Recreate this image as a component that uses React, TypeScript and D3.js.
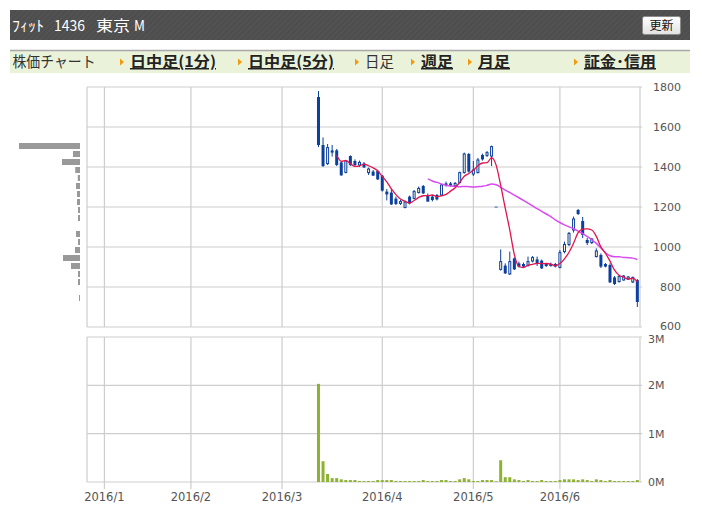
import React from 'react';
import * as d3 from 'd3';

// ---- data ----
const monthTickLabels = ['2016/1', '2016/2', '2016/3', '2016/4', '2016/5', '2016/6'];
const monthTickIndex = [0, 19, 39, 61, 81, 100]; // trading-day index of first session of month
const firstCandleIndex = 47; // 2016-03-11 (trading-day index)

const opens = [1750, 1510, 1417, 1483, 1483, 1423, 1373, 1455, 1430, 1410, 1417, 1372, 1377, 1380, 1357, 1277, 1272, 1242, 1218, 1198, 1252, 1243, 1272, 1305, 1260, 1252, 1260, 1260, 1318, 1318, 1307, 1322, 1372, 1465, 1365, 1372, 1460, 1458, 1455, 1200, 888, 907, 865, 943, 918, 915, 907, 930, 938, 932, 915, 907, 915, 898, 977, 1012, 1085, 1185, 1130, 1035, 1022, 952, 960, 915, 910, 848, 827, 835, 840, 825, 835];
const highs = [1780, 1548, 1515, 1510, 1490, 1427, 1435, 1458, 1438, 1432, 1425, 1397, 1385, 1385, 1360, 1290, 1290, 1252, 1235, 1233, 1257, 1285, 1302, 1310, 1268, 1260, 1265, 1315, 1327, 1325, 1325, 1377, 1472, 1470, 1430, 1445, 1467, 1480, 1507, 1200, 988, 918, 977, 948, 927, 922, 952, 955, 952, 937, 920, 922, 920, 985, 1027, 1075, 1152, 1190, 1150, 1045, 1045, 993, 968, 920, 918, 855, 860, 860, 855, 852, 840];
const lows = [1500, 1400, 1410, 1452, 1405, 1357, 1368, 1405, 1402, 1400, 1395, 1360, 1355, 1335, 1277, 1233, 1210, 1210, 1210, 1193, 1213, 1238, 1268, 1265, 1227, 1228, 1233, 1255, 1302, 1302, 1300, 1318, 1367, 1372, 1355, 1368, 1432, 1450, 1405, 1200, 882, 865, 860, 885, 897, 898, 902, 923, 905, 890, 900, 902, 898, 893, 968, 1005, 1072, 1160, 1045, 1010, 1015, 948, 895, 898, 820, 810, 822, 832, 835, 820, 700];
const closes = [1510, 1405, 1497, 1472, 1410, 1358, 1430, 1410, 1410, 1423, 1398, 1390, 1357, 1338, 1282, 1263, 1213, 1215, 1227, 1225, 1218, 1277, 1293, 1268, 1227, 1235, 1238, 1310, 1307, 1307, 1318, 1372, 1465, 1377, 1385, 1435, 1438, 1472, 1502, 1200, 927, 868, 927, 888, 902, 902, 927, 947, 915, 893, 905, 913, 902, 972, 1013, 1068, 1140, 1165, 1060, 1020, 1040, 980, 902, 902, 823, 815, 852, 855, 850, 848, 725];
const volumesM = [2.03, 0.43, 0.166, 0.08, 0.08, 0.055, 0.04, 0.04, 0.04, 0.02, 0.02, 0.02, 0.02, 0.04, 0.04, 0.04, 0.04, 0.02, 0.02, 0.02, 0.02, 0.02, 0.02, 0.04, 0.02, 0.02, 0.02, 0.04, 0.04, 0.02, 0.02, 0.055, 0.08, 0.055, 0.02, 0.02, 0.04, 0.04, 0.04, 0.015, 0.45, 0.1, 0.1, 0.055, 0.04, 0.02, 0.04, 0.02, 0.02, 0.04, 0.02, 0.02, 0.02, 0.04, 0.055, 0.055, 0.055, 0.04, 0.055, 0.04, 0.02, 0.055, 0.04, 0.02, 0.04, 0.02, 0.02, 0.02, 0.02, 0.02, 0.04];

const priceTicks = [600, 800, 1000, 1200, 1400, 1600, 1800];
const volTicks = [0, 1, 2, 3];
const volTickLabels = ['0M', '1M', '2M', '3M'];

const profileBinLow = [720, 760, 800, 840, 880, 920, 960, 1000, 1040, 1080, 1120, 1160, 1200, 1240, 1280, 1320, 1360, 1400, 1440, 1480];
const profileVolK = [40, 0, 80, 80, 360, 680, 200, 80, 160, 0, 80, 80, 120, 120, 160, 90, 190, 720, 280, 2440];
const profileBin = 40;

const tabs = [
  { label: '日中足(1分)', x: 130, w: 86, link: true },
  { label: '日中足(5分)', x: 248, w: 86, link: true },
  { label: '日足', x: 365, w: 29, link: false },
  { label: '週足', x: 421, w: 32, link: true },
  { label: '月足', x: 478, w: 32, link: true },
  { label: '証金･信用', x: 584, w: 72, link: true },
];

// ---- layout ----
const PL = 87, PR = 640;
const PT = 87, PB = 327;
const VT = 337, VB = 482;
const BLUE = '#0c3f9e';
const GRID = '#cdcdcd';
const FONT = "'DejaVu Sans', Verdana, sans-serif";
const JFONT = "'Noto Sans CJK JP', sans-serif";

function movingAvg(vals: number[], n: number) {
  const out: { i: number; v: number }[] = [];
  for (let k = n - 1; k < vals.length; k++) {
    out.push({ i: k, v: d3.mean(vals.slice(k - n + 1, k + 1)) as number });
  }
  return out;
}

export default function App() {
  const x = d3.scaleLinear().domain([0, 100]).range([104.4, 104.4 + 100 * 4.555]);
  const y = d3.scaleLinear().domain([600, 1800]).range([PB, PT]);
  const yv = d3.scaleLinear().domain([0, 3]).range([VB, VT]);
  const pv = d3.scaleLinear().domain([0, d3.max(profileVolK) as number]).range([0, 61]);

  const candles = closes.map((c, k) => ({
    idx: firstCandleIndex + k,
    o: opens[k], h: highs[k], l: lows[k], c,
    v: volumesM[k],
  }));

  const ma5 = movingAvg(closes, 5);
  const ma25 = movingAvg(closes, 25);
  const line = d3.line<{ i: number; v: number }>()
    .x(d => x(firstCandleIndex + d.i))
    .y(d => y(d.v))
    .curve(d3.curveMonotoneX);

  return (
    <svg width={702} height={520} style={{ position: 'absolute', left: 0, top: 0, background: '#fff' }}>
      <defs>
        <pattern id="stripe" width="4" height="4" patternUnits="userSpaceOnUse" patternTransform="rotate(45)">
          <rect width="4" height="4" fill="#4e4e4e" />
          <line x1="0" y1="0" x2="0" y2="4" stroke="#575757" strokeWidth="1.5" />
        </pattern>
        <linearGradient id="btn" x1="0" y1="0" x2="0" y2="1">
          <stop offset="0" stopColor="#ffffff" />
          <stop offset="1" stopColor="#e2e2e2" />
        </linearGradient>
      </defs>

      {/* header */}
      <rect x={10} y={10} width={680} height={30} fill="url(#stripe)" />
      <g fill="#fff" fontFamily={JFONT} fontSize={15}>
        <text x={12} y={31} textLength={32} lengthAdjust="spacingAndGlyphs">ﾌｨｯﾄ</text>
        <text x={54} y={31} textLength={31} lengthAdjust="spacingAndGlyphs">1436</text>
        <text x={96} y={31} textLength={34} lengthAdjust="spacingAndGlyphs">東京</text>
        <text x={134} y={31} textLength={11} lengthAdjust="spacingAndGlyphs">M</text>
      </g>
      <rect x={642.5} y={16.5} width={38} height={18} rx={2} fill="url(#btn)" stroke="#8a8a8a" />
      <text x={661.5} y={30} textAnchor="middle" fontFamily={JFONT} fontSize={12} fill="#111">更新</text>

      {/* tab bar */}
      <rect x={10} y={50} width={680} height={23} fill="#ebf2da" />
      <line x1={10} x2={690} y1={50.5} y2={50.5} stroke="#a9a9a9" strokeWidth={1.5} />
      <text x={12.5} y={67} fontFamily={JFONT} fontSize={15} fill="#333" textLength={83} lengthAdjust="spacingAndGlyphs">株価チャート</text>
      {tabs.map(t => (
        <g key={t.label}>
          <path d={`M${t.x - 10},${58.5} L${t.x - 6},${62} L${t.x - 10},${65.5} Z`} fill="#f29b0c" />
          <text x={t.x} y={67} fontFamily={JFONT} fontSize={15} fontWeight={t.link ? 'bold' : 'normal'}
            fill={t.link ? '#222' : '#333'} textLength={t.w} lengthAdjust="spacingAndGlyphs"
            style={{ textDecoration: t.link ? 'underline' : 'none' }}>{t.label}</text>
        </g>
      ))}

      {/* price panel grid */}
      <g stroke={GRID} strokeWidth={1.2}>
        {priceTicks.map(p => <line key={p} x1={PL} x2={PR + 2} y1={y(p)} y2={y(p)} />)}
        {monthTickIndex.map(i => <line key={i} x1={x(i)} x2={x(i)} y1={PT} y2={PB} />)}
        <line x1={PL} x2={PL} y1={PT} y2={PB} />
        <line x1={PR} x2={PR} y1={PT} y2={PB} />
      </g>
      <g fontFamily={FONT} fontSize={11} fill="#555" textAnchor="end">
        {priceTicks.map(p => <text key={p} x={681} y={y(p) + (p === 600 ? 2.5 : 4)}>{p}</text>)}
      </g>

      {/* volume profile */}
      <g fill="#999">
        {profileBinLow.map((b, k) => profileVolK[k] > 0 ? (
          <rect key={b} x={80 - pv(profileVolK[k])} y={y(b + profileBin)} width={pv(profileVolK[k])}
            height={y(b) - y(b + profileBin) - 2} />
        ) : null)}
      </g>

      {/* candles */}
      <g>
        {candles.map(d => {
          const cx = x(d.idx);
          const up = d.c > d.o;
          const top = y(Math.max(d.o, d.c));
          const bot = y(Math.min(d.o, d.c));
          if (d.h === d.l) {
            return <rect key={d.idx} x={cx - 1.5} y={top - 0.5} width={3} height={1.2} fill="#5577c4" />;
          }
          return (
            <g key={d.idx}>
              <line x1={cx} x2={cx} y1={y(d.h)} y2={y(d.l)} stroke={BLUE} strokeWidth={1} />
              {up ? (
                <rect x={cx - 1} y={top} width={2} height={Math.max(bot - top, 1)} fill="#fffbe3" stroke={BLUE} strokeWidth={1} />
              ) : (
                <rect x={cx - 1.5} y={top} width={3} height={Math.max(bot - top, 1.5)} fill={BLUE} />
              )}
            </g>
          );
        })}
      </g>

      {/* moving averages */}
      <path d={line(ma25) || ''} fill="none" stroke="#d94bf2" strokeWidth={1.5} />
      <path d={line(ma5) || ''} fill="none" stroke="#e3134c" strokeWidth={1.3} />

      {/* volume panel */}
      <g stroke={GRID} strokeWidth={1.2}>
        {volTicks.map(v => <line key={v} x1={PL} x2={PR + 2} y1={yv(v)} y2={yv(v)} />)}
        {monthTickIndex.map(i => <line key={i} x1={x(i)} x2={x(i)} y1={VT} y2={VB + 7} />)}
        <line x1={PL} x2={PL} y1={VT} y2={VB} />
        <line x1={PR} x2={PR} y1={VT} y2={VB} />
      </g>
      <g fill="#8db232">
        {candles.map(d => (
          <rect key={d.idx} x={x(d.idx) - 1.5} y={yv(d.v)} width={3} height={VB - yv(d.v)} />
        ))}
      </g>
      <g fontFamily={FONT} fontSize={11} fill="#555">
        {volTicks.map((v, k) => <text key={v} x={648} y={yv(v) + (v === 3 ? 6 : 4)}>{volTickLabels[k]}</text>)}
      </g>
      <g fontFamily={FONT} fontSize={11.5} fill="#555" textAnchor="middle">
        {monthTickIndex.map((i, k) => <text key={i} x={x(i)} y={501}>{monthTickLabels[k]}</text>)}
      </g>
    </svg>
  );
}
